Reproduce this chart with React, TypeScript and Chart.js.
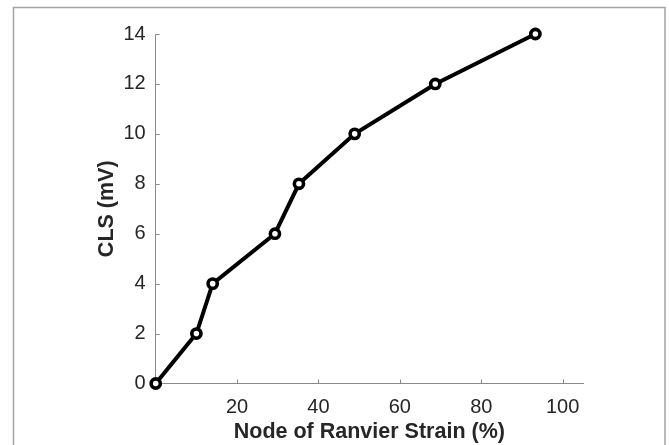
import React, { useEffect, useRef } from "react";
import { Chart, registerables } from "chart.js";

Chart.register(...registerables);

// Node of Ranvier strain (%) against CLS (mV)
const strainPct: number[] = [0, 10, 14, 29.3, 35.2, 48.9, 68.7, 93.3];
const clsMv: number[] = [0, 2, 4, 6, 8, 10, 12, 14];
const xTickValues: number[] = [20, 40, 60, 80, 100];
const yTickValues: number[] = [0, 2, 4, 6, 8, 10, 12, 14];

const INK = "#262626";
const AXIS = "#8a8a8a";
const FAMILY = "'Liberation Sans', Arial, sans-serif";

// Frame around the figure plus MATLAB-style inward tick marks
const framePlugin = {
  id: "frameAndTicks",
  beforeDraw(chart: any) {
    const ctx = chart.ctx;
    ctx.save();
    ctx.strokeStyle = "#a3a3a3";
    ctx.lineWidth = 1.5;
    ctx.strokeRect(13.5, 7.5, 651.5, 460);
    ctx.restore();
  },
  beforeDatasetsDraw(chart: any) {
    const ctx = chart.ctx;
    const { left, bottom } = chart.chartArea;
    const xs = chart.scales.x;
    const ys = chart.scales.y;
    ctx.save();
    ctx.strokeStyle = AXIS;
    ctx.lineWidth = 1;
    const len = 4;
    ctx.beginPath();
    for (const v of xTickValues) {
      const px = Math.round(xs.getPixelForValue(v)) + 0.5;
      ctx.moveTo(px, bottom);
      ctx.lineTo(px, bottom - len);
    }
    for (const v of yTickValues) {
      const py = Math.round(ys.getPixelForValue(v)) + 0.5;
      ctx.moveTo(left, py);
      ctx.lineTo(left + len, py);
    }
    ctx.stroke();
    ctx.restore();
  },
};

export default function App() {
  const canvasRef = useRef<HTMLCanvasElement | null>(null);

  useEffect(() => {
    const canvas = canvasRef.current;
    if (!canvas) return;
    const chart = new Chart(canvas, {
      type: "line",
      data: {
        datasets: [
          {
            data: strainPct.map((x, i) => ({ x, y: clsMv[i] })),
            borderColor: "#000000",
            borderWidth: 4,
            pointRadius: 4.6,
            pointBorderWidth: 3.6,
            pointBackgroundColor: "#ffffff",
            pointBorderColor: "#000000",
            tension: 0,
            clip: false as any,
          },
        ],
      },
      options: {
        animation: false,
        responsive: false,
        maintainAspectRatio: false,
        events: [],
        layout: { padding: { left: 0, top: 34, right: 86, bottom: 0 } },
        plugins: {
          legend: { display: false },
          tooltip: { enabled: false },
        },
        scales: {
          x: {
            type: "linear",
            min: 0,
            max: 105,
            afterFit: (s: any) => {
              s.height = 61.5;
            },
            afterBuildTicks: (s: any) => {
              s.ticks = xTickValues.map((v) => ({ value: v }));
            },
            grid: { display: true, drawOnChartArea: false, drawTicks: false },
            border: { display: true, color: AXIS, width: 1 },
            ticks: {
              color: INK,
              padding: 12,
              maxRotation: 0,
              font: { family: FAMILY, size: 20 },
            },
            title: {
              display: true,
              text: "Node of Ranvier Strain (%)",
              color: INK,
              padding: 0,
              font: { family: FAMILY, size: 21.5, weight: "bold" },
            },
          },
          y: {
            type: "linear",
            min: 0,
            max: 14,
            afterFit: (s: any) => {
              s.width = 155.7;
            },
            afterBuildTicks: (s: any) => {
              s.ticks = yTickValues.map((v) => ({ value: v }));
            },
            grid: { display: true, drawOnChartArea: false, drawTicks: false },
            border: { display: true, color: AXIS, width: 1 },
            ticks: {
              color: INK,
              padding: 10,
              font: { family: FAMILY, size: 20 },
            },
            title: {
              display: true,
              text: "CLS (mV)",
              color: INK,
              padding: 94,
              font: { family: FAMILY, size: 21.5, weight: "bold" },
            },
          },
        },
      },
      plugins: [framePlugin],
    });
    return () => chart.destroy();
  }, []);

  return (
    <div style={{ position: "fixed", left: 0, top: 0, width: 669, height: 445, background: "#ffffff" }}>
      <canvas ref={canvasRef} width={669} height={445} style={{ width: 669, height: 445, display: "block" }} />
    </div>
  );
}
